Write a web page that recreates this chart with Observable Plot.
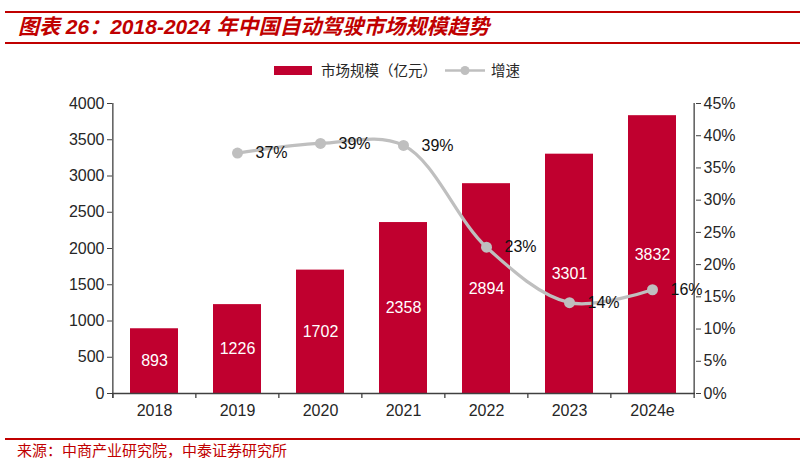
<!DOCTYPE html>
<html><head><meta charset="utf-8">
<script src="https://cdn.jsdelivr.net/npm/d3@7"></script>
<script src="https://cdn.jsdelivr.net/npm/@observablehq/plot@0.6"></script>
<style>
body{margin:0;background:#fff;width:803px;height:462px;position:relative;overflow:hidden;font-family:"Liberation Sans",Arial,"Noto Sans CJK SC",sans-serif;}
.hr{position:absolute;left:5px;width:795px;background:#c00000;}
#title{position:absolute;left:18px;top:15px;font-size:21px;font-weight:bold;font-style:italic;color:#c00000;white-space:nowrap;line-height:24px;font-family:"Liberation Sans",Arial,"Noto Sans CJK SC",sans-serif;}
.lg{position:absolute;font-size:14.5px;line-height:18px;color:#262626;font-family:"Noto Sans CJK SC",sans-serif;white-space:nowrap;}
#chart{position:absolute;left:0;top:85px;}
#source{position:absolute;left:17px;top:441px;font-size:15px;line-height:18px;color:#c00000;font-family:"Noto Sans CJK SC",sans-serif;white-space:nowrap;}
</style></head>
<body>
<div class="hr" style="top:11px;height:2px"></div>
<div id="title">图表 26：2018-2024 年中国自动驾驶市场规模趋势</div>
<div class="hr" style="top:42px;height:1.5px"></div>
<svg class="lg" style="left:273px;top:61px" width="40" height="18"><rect x="1" y="5" width="38" height="9" fill="#c0002f"/></svg>
<div class="lg" id="lg1" style="left:321px;top:61px">市场规模（亿元）</div>
<svg class="lg" style="left:444px;top:61px" width="42" height="18"><line x1="1" x2="41" y1="9.5" y2="9.5" stroke="#bfbfbf" stroke-width="2.5"/><circle cx="21" cy="9.5" r="4.5" fill="#bfbfbf"/></svg>
<div class="lg" id="lg2" style="left:491px;top:61px">增速</div>
<div id="chart"></div>
<div class="hr" style="top:438px;height:1.5px"></div>
<div id="source">来源：中商产业研究院，中泰证券研究所</div>
<script>
const years = ["2018","2019","2020","2021","2022","2023","2024e"];
const marketSize = [893,1226,1702,2358,2894,3301,3832];
const growthYears = ["2019","2020","2021","2022","2023","2024e"];
const growthRate = [37.3,38.8,38.5,22.7,14.1,16.1];
const growthLabels = ["37%","39%","39%","23%","14%","16%"];
const leftTicks = [0,500,1000,1500,2000,2500,3000,3500,4000];
const pctTicks = [0,5,10,15,20,25,30,35,40,45];

const W = 803, mL = 112, mR = 108;
const yMax = 4000, pMax = 45, k = yMax / pMax;
const step = (W - mL - mR) / years.length;
const axisColor = "#404040";

const bars = years.map((y,i)=>({year:y, value:marketSize[i]}));
const growth = growthYears.map((y,i)=>({year:y, rate:growthRate[i]*k, label:growthLabels[i]}));

const chart = Plot.plot({
  width: W, height: 338,
  marginLeft: mL, marginRight: mR, marginTop: 18, marginBottom: 30,
  x: {domain: years, paddingInner: 0.42, paddingOuter: 0.21},
  y: {domain: [0, yMax]},
  style: {fontFamily: "'Liberation Sans', Arial, sans-serif", fontSize: "16px", color: "#262626", background: "#fff"},
  marks: [
    Plot.barY(bars, {x: "year", y: "value", fill: "#c0002f"}),
    Plot.text(bars, {x: "year", y: d => d.value / 2, text: d => String(d.value), fill: "#fff", fontSize: 16}),
    Plot.ruleY([0], {stroke: axisColor, strokeWidth: 1.3}),
    Plot.ruleX(years, {x: d => d, dx: -step / 2, y1: -70, y2: 0, stroke: axisColor, strokeWidth: 1.3}),
    Plot.ruleX([years[0]], {x: d => d, dx: -step / 2, y1: -70, y2: yMax, stroke: axisColor, strokeWidth: 1.3}),
    Plot.ruleX([years[years.length-1]], {x: d => d, dx: step / 2, y1: -70, y2: yMax, stroke: axisColor, strokeWidth: 1.3}),
    Plot.line(growth, {x: "year", y: "rate", curve: "catmull-rom", stroke: "#bfbfbf", strokeWidth: 3.2}),
    Plot.dot(growth, {x: "year", y: "rate", r: 5.5, fill: "#bfbfbf"}),
    Plot.text(growth, {x: "year", y: "rate", text: "label", dx: 34, fontSize: 16, fill: "#111"}),
    Plot.axisY({anchor: "left", ticks: leftTicks, tickSize: 5, tickPadding: 3, label: null, stroke: axisColor, tickFormat: d => String(d)}),
    Plot.axisY({anchor: "right", ticks: pctTicks.map(p => p * k), tickSize: 5, tickPadding: 3, label: null, stroke: axisColor, tickFormat: v => Math.round(v / k) + "%"}),
    Plot.axisX({tickSize: 0, tickPadding: 11, label: null})
  ]
});
document.getElementById("chart").appendChild(chart);
</script>
</body></html>
